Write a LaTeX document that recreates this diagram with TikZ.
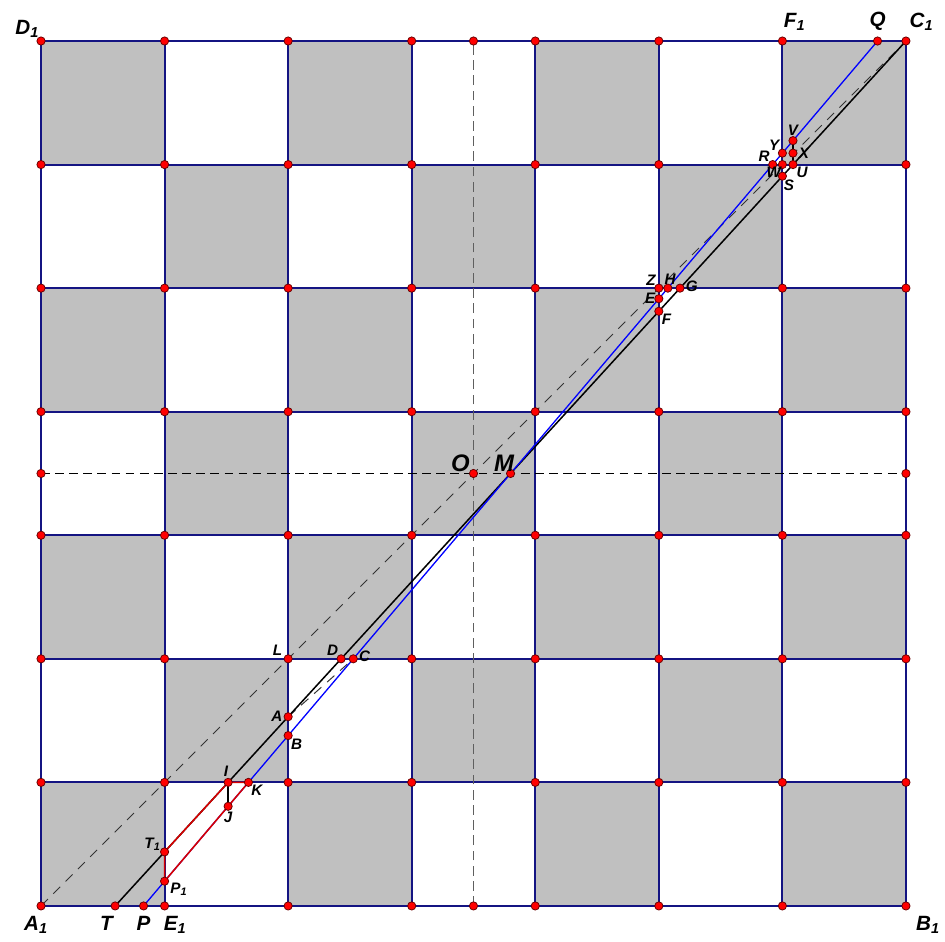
\documentclass[tikz,border=0pt]{standalone}
\usepackage{fontspec}
\setmainfont{Liberation Sans}
\usetikzlibrary{positioning}
\definecolor{cellgray}{RGB}{192,192,192}
\definecolor{gridnavy}{RGB}{20,20,130}
\definecolor{midgray}{RGB}{95,95,95}
\tikzset{
  gridline/.style={draw=gridnavy, line width=0.9pt},
  midv/.style={draw=midgray, line width=0.9pt, dash pattern=on 4.5pt off 2.5pt},
  midh/.style={draw=black, line width=0.5pt, dash pattern=on 4pt off 2.5pt},
  diag/.style={draw=black!80, line width=0.45pt, dash pattern=on 4.5pt off 3.5pt},
  blackline/.style={draw=black, line width=0.7pt},
  blueline/.style={draw=blue, line width=0.6pt},
  redline/.style={draw=red!85!black, line width=0.7pt},
  pt/.style={circle, fill=red, draw=red!40!black, line width=0.35pt, inner sep=0pt, minimum size=3.8pt},
  lab/.style={font=\bfseries\itshape\fontsize{9.5}{10}\selectfont, inner sep=0.5pt},
  biglab/.style={font=\bfseries\itshape\fontsize{11}{12}\selectfont, inner sep=0.5pt},
  slab/.style={font=\bfseries\itshape\fontsize{7}{8}\selectfont, inner sep=0.5pt},
}

\begin{document}
\begin{tikzpicture}[x=2cm,y=2cm]
  \useasboundingbox (-0.332,-0.291) rectangle (7.316,7.332);
  % board
  \foreach \i in {0,...,6}
    \foreach \j in {0,...,6} {
      \pgfmathtruncatemacro{\odd}{mod(\i+\j,2)}
      \ifnum\odd=0 \fill[cellgray] (\i,\j) rectangle ++(1,1); \fi
    }
  \foreach \k in {0,...,7} {
    \draw[gridline] (\k,0) -- (\k,7);
    \draw[gridline] (0,\k) -- (7,\k);
  }
  % points
  \coordinate (A1) at (0,0);
  \coordinate (B1) at (7,0);
  \coordinate (C1) at (7,7);
  \coordinate (D1) at (0,7);
  \coordinate (E1) at (1,0);
  \coordinate (F1) at (6,7);
  \coordinate (L) at (2,2);
  \coordinate (Z) at (5,5);
  \coordinate (W) at (6,6);
  \coordinate (O) at (3.5,3.5);
  \coordinate (midB) at (3.5,0);
  \coordinate (midT) at (3.5,7);
  \coordinate (midL) at (0,3.5);
  \coordinate (midR) at (7,3.5);
  \coordinate (T) at (0.6,0);
  \coordinate (P) at (0.83,0);
  \coordinate (Q) at (6.77,7);
  \coordinate (M) at (3.8,3.5);
  \coordinate (T1) at (1,0.4375);
  \coordinate (I) at (1.5143,1);
  \coordinate (A) at (2,1.5313);
  \coordinate (D) at (2.4286,2);
  \coordinate (F) at (5,4.8125);
  \coordinate (G) at (5.1714,5);
  \coordinate (S) at (6,5.9063);
  \coordinate (U) at (6.0857,6);
  \coordinate (P1) at (1,0.2003);
  \coordinate (K) at (1.6786,1);
  \coordinate (B) at (2,1.3788);
  \coordinate (C) at (2.5271,2);
  \coordinate (E) at (5,4.9141);
  \coordinate (H) at (5.0729,5);
  \coordinate (R) at (5.9214,6);
  \coordinate (Y) at (6,6.0926);
  \coordinate (J) at (1.5143,0.8064);
  \coordinate (V) at (6.0857,6.1936);
  \coordinate (X) at (U |- Y);
  % lines
  \draw[midv] (midB) -- (midT);
  \draw[midh] (midL) -- (midR);
  \draw[diag] (A1) -- (C1);
  \draw[diag] (A) -- (C);
  \draw[blackline] (T) -- (C1);
  \draw[blueline] (P) -- (Q);
  \draw[blackline] (I) -- (J);
  \draw[blackline] (V) -- (U);
  \draw[redline] (T1) -- (I) -- (K) -- (P1) -- cycle;
  % dots
  \foreach \i in {0,...,7}
    \foreach \j in {0,...,7}
      \node[pt] (g\i\j) at (\i,\j) {};
  \foreach \p in {midB,midT,midL,midR,O,T,P,Q,M,T1,I,A,D,F,G,S,U,P1,K,B,C,E,H,R,Y,J,V,X}
    \node[pt] (dot\p) at (\p) {};
  % labels
  \node[lab, above left=1pt and 0pt of D1] (tD1) {D\textsubscript{1}};
  \node[lab, above right=4pt and 0pt of F1] (tF1) {F\textsubscript{1}};
  \node[lab, above=4pt of Q] (tQ) {Q};
  \node[lab, above right=4pt and 1pt of C1] (tC1) {C\textsubscript{1}};
  \node[lab, below left=4pt and -4pt of A1] (tA1) {A\textsubscript{1}};
  \node[lab, below=4pt of T, xshift=-4pt] (tT) {T};
  \node[lab, below=4pt of P] (tP) {P};
  \node[lab, below right=4pt and -1pt of E1] (tE1) {E\textsubscript{1}};
  \node[lab, below right=4pt and 4pt of B1] (tB1) {B\textsubscript{1}};
  \node[biglab, above left=0pt and 1pt of O] (tO) {O};
  \node[biglab, above=0pt of M, xshift=-3pt] (tM) {M};
  \node[slab, above left=1pt and 2pt of L] (tL) {L};
  \node[slab, above left=1pt of D] (tD) {D};
  \node[slab, right=2pt of C, yshift=1pt] (tC) {C};
  \node[slab, left=2pt of A] (tA) {A};
  \node[slab, below right=1pt of B] (tB) {B};
  \node[slab, above=2pt of I, xshift=-1pt] (tI) {I};
  \node[slab, below right=1pt of K] (tK) {K};
  \node[slab, below=2pt of J] (tJ) {J};
  \node[slab, above left=0pt and 1pt of T1] (tT1) {T\textsubscript{1}};
  \node[slab, below right=0pt and 2pt of P1] (tP1) {P\textsubscript{1}};
  \node[slab, above left=1pt of Z] (tZ) {Z};
  \node[slab, above=1pt of H, xshift=1pt] (tH) {H};
  \node[slab, right=2pt of G, yshift=1pt] (tG) {G};
  \node[slab, left=1pt of E] (tE) {E};
  \node[slab, below right=1pt of F] (tF) {F};
  \node[slab, above left=1pt of R] (tR) {R};
  \node[slab, above left=1pt of Y] (tY) {Y};
  \node[slab, above=1.5pt of V] (tV) {V};
  \node[slab, right=2pt of X] (tX) {X};
  \node[slab, below right=0.5pt and 1pt of U] (tU) {U};
  \node[slab, below left=0.5pt and 0pt of W] (tW) {W};
  \node[slab, below right=1pt and 0pt of S] (tS) {S};
\end{tikzpicture}
\end{document}
